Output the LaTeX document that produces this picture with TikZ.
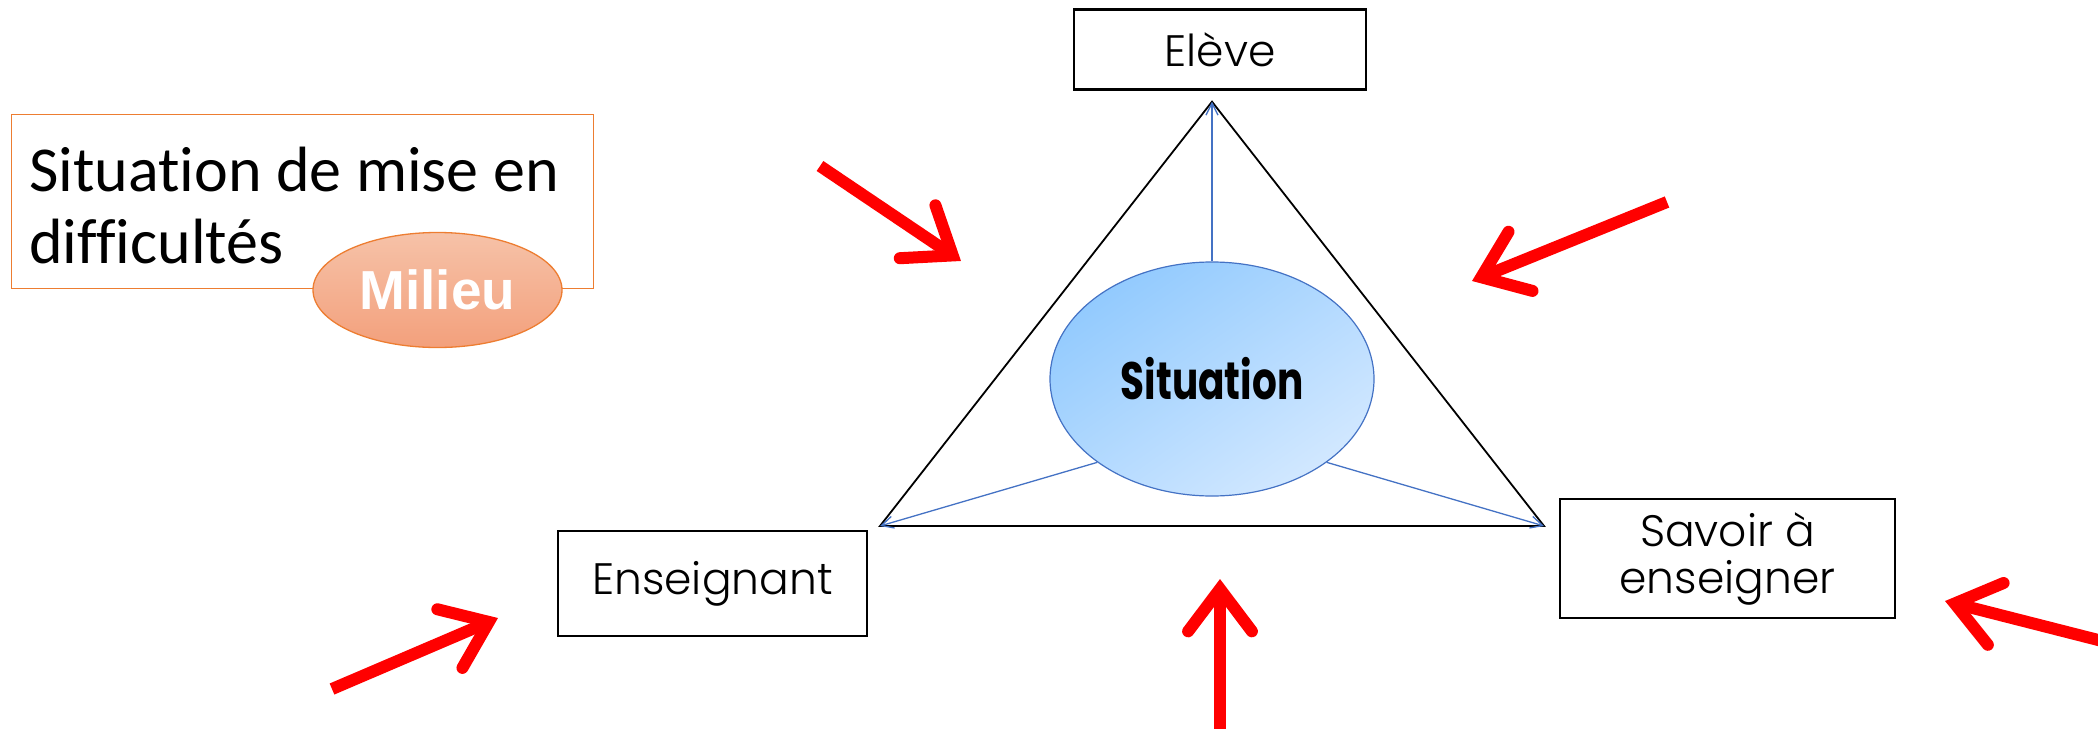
\documentclass[tikz,border=0pt]{standalone}
\usepackage{fontspec}
\usepackage{graphicx}
\setmainfont{Carlito}[Ligatures=NoCommon]
\newfontfamily\gothic{Poppins Light}[BoldFont={Poppins Bold}]
\newfontfamily\arialfont{Liberation Sans Bold}
\usetikzlibrary{calc,arrows.meta,shapes.geometric}
\definecolor{orangeline}{HTML}{ED7D31}
\definecolor{milieutop}{HTML}{F6C2A8}
\definecolor{milieubot}{HTML}{F3A07C}
\definecolor{blueline}{HTML}{4472C4}
\definecolor{sitdark}{HTML}{92CAFE}
\definecolor{sitlight}{HTML}{D2E8FF}
\definecolor{redarrow}{HTML}{FF0000}
\begin{document}
\begin{tikzpicture}[x=1pt,y=-1pt,
  labelbox/.style={draw=black, line width=2.2pt, rectangle, inner sep=0pt,
    font=\gothic\fontsize{44}{50}\selectfont, align=center},
  trianglee/.style={draw=black, line width=1.8pt, line join=miter},
  bluelink/.style={draw=blueline, line width=1.3pt, -{Straight Barb[length=12pt,width=12pt]}},
  redshaft/.style={draw=redarrow, line width=12pt, line cap=butt},
  redhead/.style={draw=redarrow, line width=12pt, line cap=round, line join=miter},
]
\useasboundingbox (0,0) rectangle (2098,728);

% Milieu frame
\node[draw=orangeline, line width=1.5pt, minimum width=582pt, minimum height=174pt,
      anchor=north west, inner sep=0pt] (frame) at (10.7,113.7) {};
\node[anchor=base west, inner sep=0pt, font=\fontsize{64}{72}\selectfont] (txtA) at (29,191) {Situation de mise en};
\node[anchor=base west, inner sep=0pt, font=\fontsize{64}{72}\selectfont] (txtB) at (29,263) {difficultés};
\node[ellipse, draw=orangeline, line width=1.3pt, top color=milieutop, bottom color=milieubot,
      minimum width=249pt, minimum height=115pt, inner sep=0pt,
      font=\arialfont\fontsize{55}{60}\selectfont, text=white] (milieu) at (437.5,290) {Milieu};

% triangle
\coordinate (A) at (1212,101.7);
\coordinate (B) at (880,526);
\coordinate (C) at (1544,526);
\draw[trianglee] (A) -- (B) -- (C) -- cycle;

\node[ellipse, draw=blueline, line width=1.2pt, top color=sitdark, bottom color=sitlight, shading angle=35,
      minimum width=324pt, minimum height=234pt, inner sep=0pt,
      font=\gothic\bfseries\fontsize{39}{44}\selectfont] (sit) at (1212,379) {\scalebox{1}[1.35]{Situation}};
\draw[bluelink] (sit.north) -- (A);
\draw[bluelink] (sit.216) -- (B);
\draw[bluelink] (sit.-36) -- (C);

% boxes
\node[labelbox, minimum width=292pt, minimum height=80pt] (eleve) at (1220,49.5) {Elève};
\node[labelbox, minimum width=309pt, minimum height=105pt] (ens) at (712.5,583.5) {Enseignant};
\node[labelbox, minimum width=335pt, minimum height=119pt, font=\gothic\fontsize{44}{47}\selectfont] (sav) at (1727.5,558.5) {Savoir à\\enseigner};

% red arrows
\foreach \n/\tx/\ty/\hx/\hy in {1/820/166/961/261, 2/1667/202/1472/281, 3/332/689/498/618, 4/1220/740/1220/579, 5/2110/643/1945/601}{
  \coordinate (r\n t) at (\tx,\ty);
  \coordinate (r\n h) at (\hx,\hy);
  \coordinate (r\n v) at ($(r\n h)!10pt!(r\n t)$);
  \draw[redshaft] (r\n t) -- ($(r\n v)!4pt!(r\n t)$);
  \draw[redhead] ($(r\n v)!53pt!37:(r\n t)$) -- (r\n v) -- ($(r\n v)!53pt!-37:(r\n t)$);
}
\end{tikzpicture}
\end{document}
